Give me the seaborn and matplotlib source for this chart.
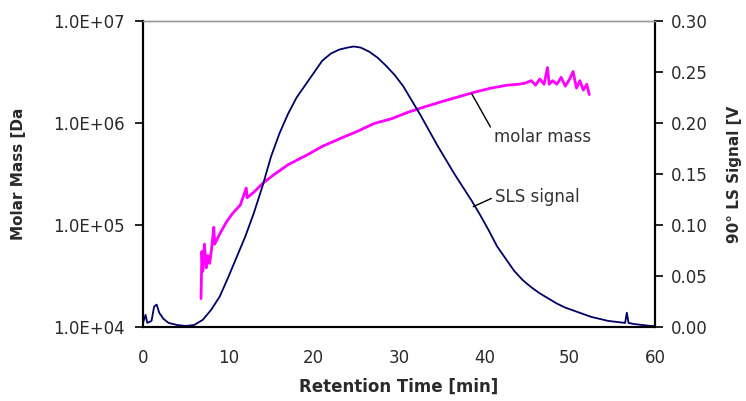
import numpy as np
import pandas as pd
import matplotlib
matplotlib.use("Agg")
import matplotlib.pyplot as plt
import matplotlib.ticker as mticker
import seaborn as sns

# SLS signal (90 deg light scattering)
sls_time = [0.0, 0.3, 0.5, 1.0, 1.3, 1.6, 1.9, 2.4, 3.0, 4.0, 5.0, 6.0, 7.0, 8.0,
            9.0, 10.0, 11.0, 12.0, 13.0, 14.0, 15.0, 16.0, 17.0, 18.0, 19.0, 20.0,
            21.0, 22.0, 23.0, 24.0, 24.7, 25.5, 26.5, 27.5, 28.5, 29.5, 30.5, 31.5,
            32.5, 33.5, 34.5, 35.5, 36.5, 37.5, 38.5, 39.5, 40.5, 41.5, 42.5, 43.5,
            44.5, 45.5, 46.5, 47.5, 48.5, 49.5, 50.5, 51.5, 52.5, 53.5, 54.5, 55.5,
            56.5, 56.7, 56.9, 57.5, 58.5, 59.5, 60.0]
sls_volt = [0.004, 0.012, 0.004, 0.006, 0.020, 0.022, 0.014, 0.008, 0.004, 0.002,
            0.001, 0.002, 0.007, 0.017, 0.030, 0.049, 0.069, 0.089, 0.112, 0.138,
            0.167, 0.190, 0.209, 0.225, 0.237, 0.249, 0.261, 0.268, 0.272, 0.274,
            0.275, 0.274, 0.270, 0.264, 0.256, 0.247, 0.236, 0.222, 0.208, 0.193,
            0.178, 0.164, 0.150, 0.137, 0.124, 0.110, 0.095, 0.079, 0.067, 0.055,
            0.046, 0.039, 0.033, 0.028, 0.023, 0.019, 0.016, 0.013, 0.010, 0.008,
            0.006, 0.005, 0.004, 0.014, 0.004, 0.003, 0.002, 0.001, 0.001]

# molar mass curve
mm_time = [6.8, 6.9, 7.0, 7.2, 7.4, 7.6, 7.8, 8.0, 8.3, 8.4, 9.0, 9.8, 10.5, 11.4,
           12.1, 12.2, 13.0, 14.0, 15.3, 17.0, 19.3, 21.0, 23.2, 25.0, 27.1, 29.1,
           31.0, 33.0, 35.0, 36.9, 38.8, 40.8, 42.7, 44.0, 44.7, 45.5, 46.0, 46.5,
           47.0, 47.4, 47.6, 48.0, 48.5, 49.0, 49.5, 50.0, 50.4, 50.8, 51.2, 51.6,
           52.0, 52.3]
mm_mass = [1.9e4, 5.5e4, 3.5e4, 6.5e4, 3.8e4, 5.0e4, 4.2e4, 5.5e4, 9.5e4, 6.5e4,
           8.2e4, 1.08e5, 1.3e5, 1.57e5, 2.3e5, 1.85e5, 2.1e5, 2.55e5, 3.1e5,
           3.9e5, 4.9e5, 5.9e5, 7.1e5, 8.2e5, 9.9e5, 1.1e6, 1.27e6, 1.44e6,
           1.62e6, 1.8e6, 2.0e6, 2.2e6, 2.35e6, 2.4e6, 2.45e6, 2.6e6, 2.35e6,
           2.7e6, 2.4e6, 3.5e6, 2.4e6, 2.6e6, 2.4e6, 2.8e6, 2.3e6, 2.7e6, 3.2e6,
           2.2e6, 2.6e6, 2.1e6, 2.4e6, 1.9e6]

x_ticks = [0, 10, 20, 30, 40, 50, 60]
mass_ticks = [1e4, 1e5, 1e6, 1e7]
volt_ticks = [0.00, 0.05, 0.10, 0.15, 0.20, 0.25, 0.30]

sls = pd.DataFrame({"time": sls_time, "signal": sls_volt})
mm = pd.DataFrame({"time": mm_time, "mass": mm_mass})

sns.set_style("white")
plt.rcParams["font.family"] = ["DejaVu Sans"]

fig = plt.figure(figsize=(7.46, 4.01), dpi=100)
ax = fig.add_axes([0.1917, 0.1845, 0.6863, 0.7631])
ax2 = ax.twinx()

sns.lineplot(data=mm, x="time", y="mass", ax=ax, color="#ff00ff", linewidth=2.0)
sns.lineplot(data=sls, x="time", y="signal", ax=ax2, color="#000066", linewidth=1.3)

ax.set_yscale("log")
ax.set_ylim(1e4, 1e7)
ax.set_xlim(0, 60)
ax2.set_ylim(0, 0.30)
ax.set_xticks(x_ticks)
ax.set_yticks(mass_ticks)
ax.yaxis.set_minor_locator(mticker.NullLocator())
ax.yaxis.set_major_formatter(mticker.FuncFormatter(lambda v, p: f"{v:.1E}"))
ax2.set_yticks(volt_ticks)
ax2.yaxis.set_major_formatter(mticker.FuncFormatter(lambda v, p: f"{v:.2f}"))

tick_col = "#2a2a2a"
for a in (ax, ax2):
    a.tick_params(axis="both", which="major", direction="out", length=5.5,
                  width=1.2, color="black", labelsize=12, labelcolor=tick_col)
    for side in ("left", "right", "bottom"):
        a.spines[side].set_color("black")
        a.spines[side].set_linewidth(1.5)
    a.spines["top"].set_color("#999999")
    a.spines["top"].set_linewidth(1.0)
ax.tick_params(axis="y", pad=8)
ax.tick_params(axis="x", pad=10)
ax2.tick_params(axis="y", pad=6)

ax.set_xlabel("Retention Time [min]", fontsize=12, fontweight="bold", color=tick_col)
ax.set_ylabel("Molar Mass [Da", fontsize=11, fontweight="bold", color=tick_col)
ax2.set_ylabel("90° LS Signal [V", fontsize=11, fontweight="bold", color=tick_col,
               rotation=90)
ax.yaxis.set_label_coords(-0.228, 0.5)
ax2.yaxis.set_label_coords(1.141, 0.5)
ax.xaxis.set_label_coords(0.5, -0.165)

ax2.annotate("molar mass", xy=(38.5, 0.229), xytext=(41.1, 0.186),
             fontsize=12, color="#333333", ha="left", va="center",
             arrowprops=dict(arrowstyle="-", color="black", lw=1.0,
                             shrinkA=0, shrinkB=0, relpos=(0, 0.75)))
ax2.annotate("SLS signal", xy=(38.7, 0.118), xytext=(41.2, 0.1275),
             fontsize=12, color="#333333", ha="left", va="center",
             arrowprops=dict(arrowstyle="-", color="black", lw=1.0,
                             shrinkA=0, shrinkB=0, relpos=(0, 0.5)))

fig.savefig("out.png", dpi=100)
